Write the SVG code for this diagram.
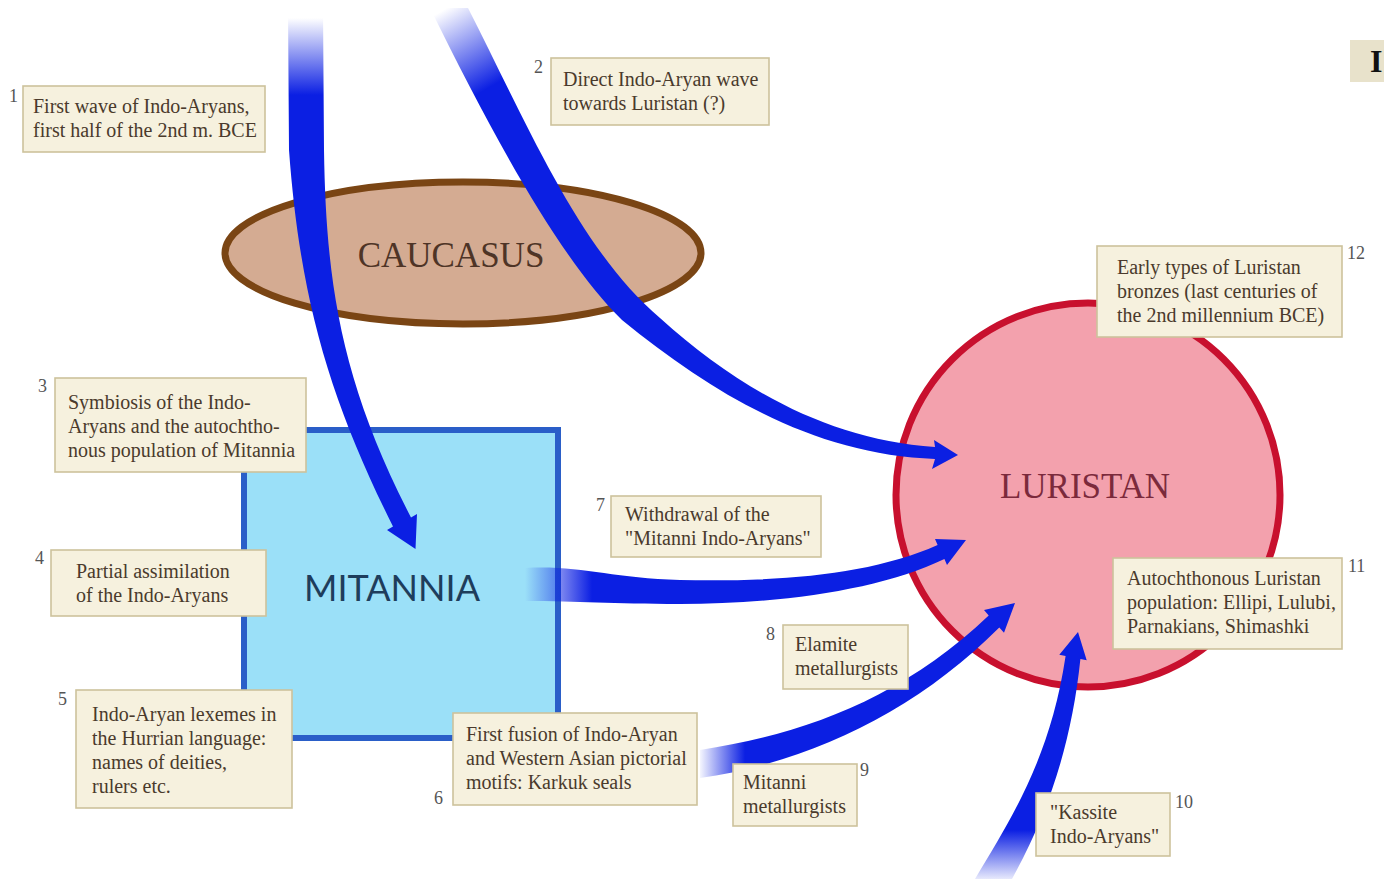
<svg xmlns="http://www.w3.org/2000/svg" width="1384" height="879" viewBox="0 0 1384 879">
<style>
.box{fill:#f6f1de;stroke:#cdc29c;stroke-width:1.6}
.lt{font-family:"Liberation Serif",serif;font-size:20px;fill:#4a3a2c}
.num{font-family:"Liberation Serif",serif;font-size:18px;fill:#555}
.arrow{stroke:none}
</style>
<defs>
<linearGradient id="g1" gradientUnits="userSpaceOnUse" x1="0" y1="18" x2="0" y2="95"><stop offset="0" stop-color="#0b1fe3" stop-opacity="0"/><stop offset="1" stop-color="#0b1fe3"/></linearGradient>
<linearGradient id="g2" gradientUnits="userSpaceOnUse" x1="440" y1="12" x2="485" y2="90"><stop offset="0" stop-color="#0b1fe3" stop-opacity="0"/><stop offset="1" stop-color="#0b1fe3"/></linearGradient>
<linearGradient id="g7" gradientUnits="userSpaceOnUse" x1="525" y1="0" x2="592" y2="0"><stop offset="0" stop-color="#0b1fe3" stop-opacity="0"/><stop offset="1" stop-color="#0b1fe3"/></linearGradient>
<linearGradient id="g9" gradientUnits="userSpaceOnUse" x1="698" y1="0" x2="745" y2="0"><stop offset="0" stop-color="#0b1fe3" stop-opacity="0"/><stop offset="1" stop-color="#0b1fe3"/></linearGradient>
<linearGradient id="g10" gradientUnits="userSpaceOnUse" x1="0" y1="879" x2="0" y2="830"><stop offset="0" stop-color="#0b1fe3" stop-opacity="0.1"/><stop offset="1" stop-color="#0b1fe3"/></linearGradient>
</defs>
<rect width="1384" height="879" fill="#fff"/>

<g id="caucasus">
<ellipse cx="463" cy="253" rx="238" ry="71" fill="#d4ab92" stroke="#7a4514" stroke-width="7"/>
<text x="451" y="267" text-anchor="middle" font-family="Liberation Serif,serif" font-size="35" fill="#4e3426">CAUCASUS</text>
</g>
<g id="mitannia">
<rect x="244" y="430" width="314" height="308" fill="#9be0f8" stroke="#2a5ec8" stroke-width="6"/>
<text x="392" y="601" text-anchor="middle" font-family="Lato,sans-serif" font-size="36" fill="#1e3d5c">MITANNIA</text>
</g>
<g id="luristan">
<circle cx="1088" cy="495" r="192" fill="#f3a1ad" stroke="#c8102e" stroke-width="7"/>
<text x="1085" y="498" text-anchor="middle" font-family="Liberation Serif,serif" font-size="35" fill="#7b2a3c">LURISTAN</text>
</g>

<g id="connectors">
<path class="arrow" fill="url(#g1)" d="M288,8 L323,8 L324,150 C326,280 340,380 411,517.5 L417,514 L415.5,549 L387,530 L393,526.5 C330,400 300,300 289,150 Z"/>
<path class="arrow" fill="url(#g2)" d="M468,8 C530,130 580,250 660,318 C740,390 830,440 935,447 L934,440 L958,455 L932,469 L935,459 C820,455 720,400 622,320 C560,260 490,130 430,8 Z"/>
<path class="arrow" fill="url(#g7)" d="M525,568 C580,565 610,578 680,580 C780,582 870,575 937.6,545 L935,539 L966,540 L947,565 L944.4,559 C880,590 780,604 680,604 C610,604 580,601 525,601 Z"/>
<path class="arrow" fill="url(#g9)" d="M700,750 C800,735 900,700 988.7,615.5 L984,610 L1015,603 L1004,632.7 L999.3,627.5 C915,712 810,762 700,778 Z"/>
<path class="arrow" fill="url(#g10)" d="M975,879 C1010,820 1050,760 1065.6,656 L1059.3,654.7 L1078,632 L1086.7,660.3 L1080.4,659 C1072,740 1050,810 1012,879 Z"/>
</g>

<g id="label1"><text class="num" x="9" y="102">1</text><rect class="box" x="23" y="86" width="242" height="66"/><text class="lt" x="33" y="113">First wave of Indo-Aryans,</text><text class="lt" x="33" y="137">first half of the 2nd m. BCE</text></g>
<g id="label2"><text class="num" x="534" y="73">2</text><rect class="box" x="551" y="58" width="218" height="67"/><text class="lt" x="563" y="86">Direct Indo-Aryan wave</text><text class="lt" x="563" y="110">towards Luristan (?)</text></g>
<g id="label3"><text class="num" x="38" y="392">3</text><rect class="box" x="55" y="378" width="251" height="94"/><text class="lt" x="68" y="409">Symbiosis of the Indo-</text><text class="lt" x="68" y="433">Aryans and the autochtho-</text><text class="lt" x="68" y="457">nous population of Mitannia</text></g>
<g id="label4"><text class="num" x="35" y="564">4</text><rect class="box" x="51" y="550" width="215" height="66"/><text class="lt" x="76" y="578">Partial assimilation</text><text class="lt" x="76" y="602">of the Indo-Aryans</text></g>
<g id="label5"><text class="num" x="58" y="705">5</text><rect class="box" x="76" y="690" width="216" height="118"/><text class="lt" x="92" y="721">Indo-Aryan lexemes in</text><text class="lt" x="92" y="745">the Hurrian language:</text><text class="lt" x="92" y="769">names of deities,</text><text class="lt" x="92" y="793">rulers etc.</text></g>
<g id="label6"><text class="num" x="434" y="804">6</text><rect class="box" x="453" y="713" width="244" height="92"/><text class="lt" x="466" y="741">First fusion of Indo-Aryan</text><text class="lt" x="466" y="765">and Western Asian pictorial</text><text class="lt" x="466" y="789">motifs: Karkuk seals</text></g>
<g id="label7"><text class="num" x="596" y="511">7</text><rect class="box" x="611" y="496" width="210" height="61"/><text class="lt" x="625" y="521">Withdrawal of the</text><text class="lt" x="625" y="545">"Mitanni Indo-Aryans"</text></g>
<g id="label8"><text class="num" x="766" y="640">8</text><rect class="box" x="783" y="625" width="125" height="64"/><text class="lt" x="795" y="651">Elamite</text><text class="lt" x="795" y="675">metallurgists</text></g>
<g id="label9"><text class="num" x="860" y="776">9</text><rect class="box" x="733" y="764" width="124" height="62"/><text class="lt" x="743" y="789">Mitanni</text><text class="lt" x="743" y="813">metallurgists</text></g>
<g id="label10"><text class="num" x="1175" y="808">10</text><rect class="box" x="1036" y="793" width="134" height="63"/><text class="lt" x="1050" y="819">"Kassite</text><text class="lt" x="1050" y="843">Indo-Aryans"</text></g>
<g id="label11"><text class="num" x="1348" y="572">11</text><rect class="box" x="1113" y="558" width="229" height="91"/><text class="lt" x="1127" y="585">Autochthonous Luristan</text><text class="lt" x="1127" y="609">population: Ellipi, Lulubi,</text><text class="lt" x="1127" y="633">Parnakians, Shimashki</text></g>
<g id="label12"><text class="num" x="1347" y="259">12</text><rect class="box" x="1097" y="246" width="245" height="91"/><text class="lt" x="1117" y="274">Early types of Luristan</text><text class="lt" x="1117" y="298">bronzes (last centuries of</text><text class="lt" x="1117" y="322">the 2nd millennium BCE)</text></g>
<g id="corner"><rect x="1350" y="40" width="40" height="42" fill="#e8e2cb"/><text x="1370" y="72" font-family="Liberation Serif,serif" font-weight="bold" font-size="32" fill="#111">I</text></g>
</svg>
